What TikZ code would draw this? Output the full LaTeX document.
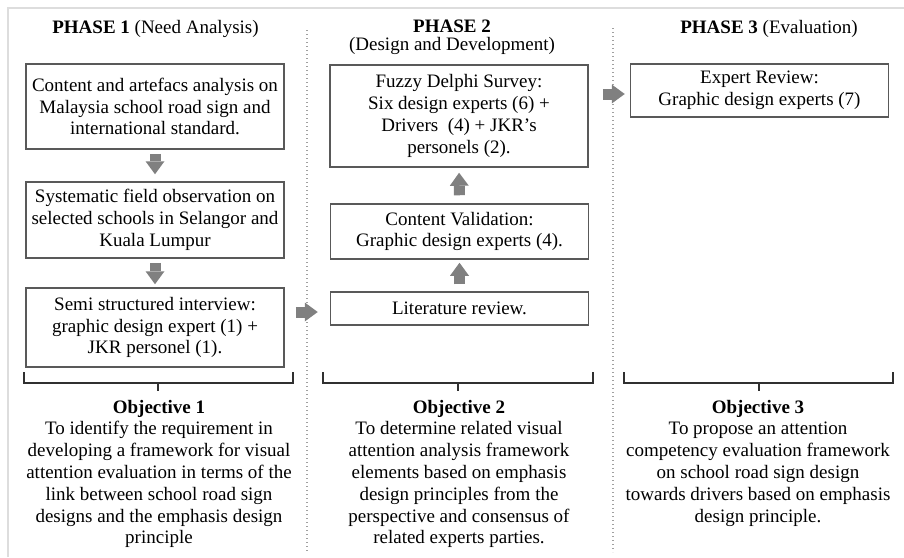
\documentclass[tikz,border=0pt]{standalone}
\usepackage{fontspec}
\setmainfont{Liberation Serif}
\usetikzlibrary{arrows.meta,calc}
\definecolor{boxgray}{HTML}{595959}
\definecolor{arrowgray}{HTML}{808080}
\definecolor{brkgray}{HTML}{303030}
\definecolor{dotgray}{HTML}{A0A0A0}
\definecolor{framegray}{HTML}{DDDDDD}
\begin{document}
\begin{tikzpicture}[x=1pt,y=-1pt,
  every node/.style={font=\fontsize{19}{21.8}\selectfont, text=black},
  box/.style={draw=boxgray, line width=1.5pt, align=center, inner sep=0pt, minimum width=258pt},
  blk/.style={draw=arrowgray, line width=11pt, -{Triangle[width=19pt,length=13pt,line width=0pt]}},
  brk/.style={draw=brkgray, line width=1.6pt},
  dotline/.style={draw=dotgray, line width=1.3pt, dash pattern=on 1.3pt off 2.7pt},
  title/.style={anchor=base, align=center, inner sep=0pt},
  objtext/.style={anchor=base, align=center, inner sep=0pt}]
\useasboundingbox (0,0) rectangle (904,557);
% frame
\draw[framegray, line width=2pt] (8,557) -- (8,8) -- (904,8);
% separators
\draw[dotline] (307,30) -- (307,552);
\draw[dotline] (613,28) -- (613,552);
% titles
\node[title] (t1) at (155.5,33) {\textbf{PHASE 1} (Need Analysis)};
\node[title] (t2) at (452,32) {\textbf{PHASE 2}};
\node[title] (t2b) at (452,50) {(Design and Development)};
\node[title] (t3) at (769,33) {\textbf{PHASE 3} (Evaluation)};
% phase 1 boxes
\node[box, minimum height=85pt] (b1) at (155,106.5) {Content and artefacs analysis on\\Malaysia school road sign and\\international standard.};
\node[box, minimum height=76pt] (b2) at (155,220) {Systematic field observation on\\selected schools in Selangor and\\Kuala Lumpur};
\node[box, minimum height=79pt] (b3) at (155,327.5) {Semi structured interview:\\graphic design expert (1) +\\JKR personel (1).};
% phase 2 boxes
\node[box, minimum height=102pt] (f) at (459,116) {Fuzzy Delphi Survey:\\Six design experts (6) +\\Drivers~ (4) + JKR’s\\personels (2).};
\node[box, minimum height=55pt] (cv) at (459.5,231.5) {Content Validation:\\Graphic design experts (4).};
\node[box, minimum height=33pt] (lit) at (459.5,308.5) {Literature review.};
% phase 3 box
\node[box, minimum height=53pt] (er) at (759.5,90.5) {Expert Review:\\Graphic design experts (7)};
% arrows
\draw[blk, shorten <=4pt, shorten >=7pt] (b1.south) -- (b2.north);
\draw[blk, shorten <=4pt, shorten >=3pt] (b2.south) -- (b3.north);
\draw[blk, shorten <=8pt, shorten >=5pt] (cv.north) -- (f.south);
\draw[blk, shorten <=7pt, shorten >=3pt] (lit.north) -- (cv.south);
\draw[blk, shorten <=11pt, shorten >=12pt] ($(b3.east |- lit.west)+(0,3.5)$) -- ($(lit.west)+(0,3.5)$);
\draw[blk, shorten <=14pt, shorten >=5pt] ($(f.east |- er.west)+(0,3.5)$) -- ($(er.west)+(0,3.5)$);
% brackets
\draw[brk] (24,372) -- (24,383) -- (293,383) -- (293,372) (158,383) -- (158,391);
\draw[brk] (323,372) -- (323,383) -- (593,383) -- (593,372) (458,383) -- (458,391);
\draw[brk] (624,372) -- (624,383) -- (893,383) -- (893,372) (759,383) -- (759,391);
% objectives (base anchor = last line's baseline)
\node[objtext] (o1) at (159,543.8) {\textbf{Objective 1}\\To identify the requirement in\\developing a framework for visual\\attention evaluation in terms of the\\link between school road sign\\designs and the emphasis design\\principle};
\node[objtext] (o2) at (459,543.8) {\textbf{Objective 2}\\To determine related visual\\attention analysis framework\\elements based on emphasis\\design principles from the\\perspective and consensus of\\related experts parties.};
\node[objtext] (o3) at (758,522) {\textbf{Objective 3}\\To propose an attention\\competency evaluation framework\\on school road sign design\\towards drivers based on emphasis\\design principle.};
\end{tikzpicture}
\end{document}
